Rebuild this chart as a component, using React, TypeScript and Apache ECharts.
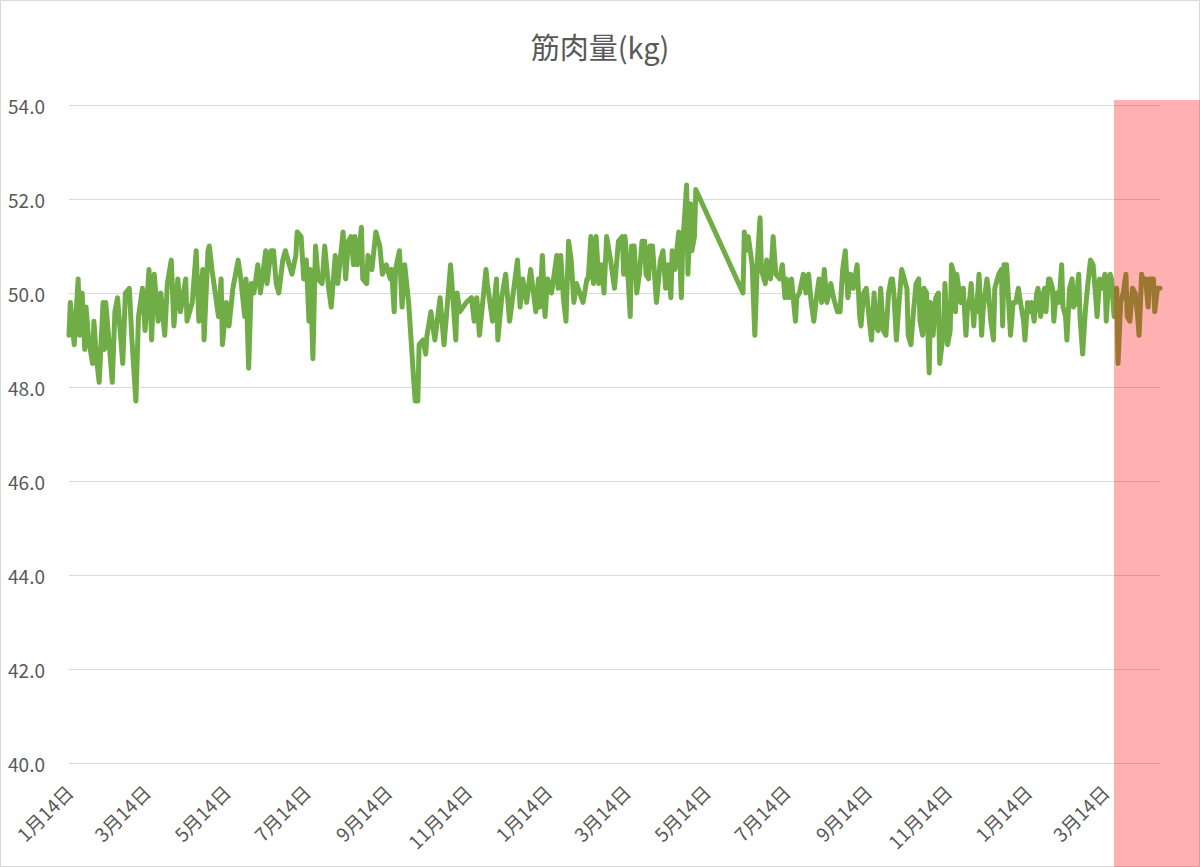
import React, { useEffect, useRef } from "react";
import * as echarts from "echarts";

// Measurement start date; points are [days since start, muscle mass kg]
const startDate = "2019-01-14";

const period1: [number, number][] = [
  [0, 49.1], [1, 49.8], [4, 48.9], [7, 50.3], [8, 49.1], [10, 50.0], [12, 48.8], [13, 49.7],
  [15, 49.0], [18, 48.5], [19, 49.4], [21, 48.6], [23, 48.1], [26, 49.8], [27, 48.8], [28, 49.8],
  [31, 48.8], [33, 48.1], [35, 49.6], [37, 49.9], [39, 49.2], [41, 48.5], [43, 50.0], [46, 50.1],
  [48, 49.0], [51, 47.7], [53, 49.5], [56, 50.1], [58, 49.2], [61, 50.5], [63, 49.0], [65, 50.4],
  [68, 49.4], [70, 50.0], [73, 49.1], [75, 50.2], [78, 50.7], [80, 49.3], [83, 50.3], [85, 49.6],
  [89, 50.3], [90, 49.4], [94, 49.8], [97, 50.9], [99, 49.4], [102, 50.5], [103, 49.0], [106, 50.9],
  [107, 51.0], [109, 50.5], [112, 49.9], [114, 49.5], [116, 50.3], [117, 48.9], [120, 49.8], [122, 49.3],
  [125, 50.1], [127, 50.4], [129, 50.7], [131, 50.3], [134, 49.5], [135, 50.3], [137, 48.4], [139, 50.2],
  [141, 50.0], [144, 50.6], [146, 50.0], [150, 50.9], [151, 50.2], [154, 50.9], [156, 50.9], [158, 50.2],
  [160, 50.0], [163, 50.7], [165, 50.9], [168, 50.6], [170, 50.4], [173, 50.8], [174, 51.3], [177, 51.2],
  [179, 50.3], [181, 50.7], [183, 49.4], [184, 50.5], [186, 48.6], [188, 51.0], [190, 50.3], [193, 50.2],
  [195, 51.0], [198, 50.1], [200, 49.7], [203, 50.8], [205, 50.2], [209, 51.3], [211, 50.3],
];

const period2: [number, number][] = [
  [213, 51.1], [215, 51.2], [217, 50.6], [218, 51.2], [220, 50.6], [223, 51.4], [224, 50.3], [227, 50.2],
  [228, 50.8], [231, 50.5], [234, 51.3], [237, 51.0], [239, 50.4], [242, 50.6], [245, 50.3], [246, 50.5],
  [248, 49.6], [249, 50.5], [252, 50.9], [254, 49.7], [256, 50.6], [259, 49.8], [263, 48.1], [264, 47.7],
  [266, 47.7], [267, 48.9], [270, 49.0], [272, 48.7], [273, 49.1], [276, 49.6], [279, 49.0], [283, 49.9],
  [286, 48.9], [291, 50.6], [295, 49.0], [296, 50.0], [298, 49.6], [303, 49.8], [307, 49.9], [309, 49.4],
  [311, 49.9], [313, 49.1], [318, 50.5], [319, 50.2], [323, 49.4], [326, 50.3], [327, 49.0], [330, 49.9],
  [333, 50.4], [336, 49.4], [342, 50.7], [344, 49.7], [346, 50.3], [349, 49.8], [352, 50.5], [356, 49.6],
  [358, 50.3], [359, 49.7], [361, 50.8], [363, 49.5], [365, 50.3], [368, 50.0], [372, 50.8], [373, 50.1],
  [375, 50.8], [377, 49.9], [379, 49.4], [381, 51.1], [383, 50.7], [385, 49.8], [387, 50.2], [392, 49.8],
  [395, 50.3], [396, 50.3], [398, 51.2], [400, 50.2], [402, 51.2], [404, 50.2], [406, 50.6], [408, 50.0],
  [410, 51.2], [413, 50.7], [416, 50.1], [419, 51.1],
];

const period3: [number, number][] = [
  [422, 51.2], [423, 50.4], [424, 51.2], [426, 50.5], [428, 49.5], [429, 51.0], [431, 51.0], [433, 50.0],
  [435, 50.4], [437, 51.1], [439, 51.1], [440, 50.4], [442, 50.3], [443, 51.0], [445, 51.0], [448, 49.8],
  [449, 50.1], [451, 50.7], [453, 50.9], [455, 50.1], [457, 50.6], [459, 49.9], [460, 50.9], [462, 50.5],
  [465, 51.3], [467, 49.9], [468, 51.0], [471, 52.3], [472, 50.4], [474, 51.9], [475, 50.9], [477, 51.2],
  [478, 52.2], [514, 50.0], [515, 51.3], [516, 50.9], [518, 51.2], [520, 50.8], [521, 50.6], [523, 49.1],
  [525, 50.7], [527, 51.6], [528, 50.5], [531, 50.2], [532, 50.7], [535, 50.3], [537, 51.2], [539, 50.4],
  [542, 50.3], [544, 50.6], [546, 49.9], [547, 50.3], [549, 49.9], [551, 50.3], [554, 49.4], [555, 49.9],
  [557, 50.0], [560, 50.4], [562, 50.0], [564, 50.4], [566, 49.8], [568, 49.4], [570, 49.9], [572, 50.3],
  [574, 49.8], [576, 50.5], [578, 49.8], [581, 50.2], [583, 49.9], [586, 49.6], [588, 49.6], [590, 50.5],
  [592, 50.9], [594, 49.9], [596, 50.4], [598, 50.1], [601, 50.6], [603, 49.5], [604, 49.3], [606, 50.0],
  [608, 50.1], [610, 49.5], [612, 49.0], [614, 50.0], [615, 49.3], [617, 49.2], [619, 50.1], [621, 49.2],
  [623, 49.1], [625, 50.0], [627, 50.3],
];

const period4: [number, number][] = [
  [628, 50.3], [629, 50.0], [631, 49.0], [633, 49.8], [635, 50.5], [637, 50.3], [639, 50.1], [640, 49.1],
  [642, 48.9], [644, 49.6], [646, 50.2], [648, 50.3], [649, 49.4], [651, 49.1], [652, 50.1], [654, 50.0],
  [656, 48.3], [657, 49.8], [658, 49.7], [659, 49.1], [661, 49.9], [663, 50.0], [664, 48.5], [667, 49.2],
  [668, 50.2], [670, 48.9], [672, 49.2], [673, 50.6], [675, 50.4], [676, 49.6], [677, 50.4], [680, 49.8],
  [682, 50.1], [684, 49.1], [685, 49.6], [687, 49.9], [688, 50.2], [690, 49.3], [691, 49.8], [692, 49.6],
  [694, 50.4], [696, 49.1], [697, 49.6], [700, 50.3], [701, 50.1], [703, 49.4], [705, 49.0], [706, 50.1],
  [709, 50.4], [711, 50.5], [712, 49.3], [713, 50.6], [715, 50.6], [717, 49.6], [718, 49.1], [720, 49.8],
  [722, 49.8], [724, 50.1], [725, 49.9], [728, 49.4], [729, 49.0], [731, 49.8], [733, 49.6], [734, 49.8],
  [736, 49.4], [738, 50.0], [739, 50.1], [741, 49.5], [743, 50.0], [744, 50.1], [745, 49.6], [747, 50.3],
  [748, 50.3], [750, 50.1], [751, 49.4], [753, 50.0], [755, 49.8], [757, 50.6], [758, 49.7], [760, 49.5],
  [761, 49.0], [763, 50.1], [765, 50.3], [766, 49.7], [768, 49.8], [770, 50.4], [771, 49.5], [773, 48.7],
  [775, 49.6], [777, 50.2], [779, 50.7], [781, 50.6], [783, 49.9], [784, 49.5], [786, 50.3], [788, 50.1],
  [790, 50.4], [791, 49.4], [793, 50.3], [794, 50.4], [795, 50.3], [797, 49.5], [799, 50.1], [800, 48.5],
  [802, 49.8], [804, 50.0], [806, 50.4], [807, 49.5], [809, 49.4], [811, 50.1], [813, 50.0], [815, 49.5],
  [816, 49.1], [818, 50.4], [819, 50.2], [821, 50.3], [823, 49.7], [824, 50.3], [827, 50.3], [828, 49.6],
  [830, 50.1], [832, 50.1],
];

const tickDates = [
  "2019-01-14", "2019-03-14", "2019-05-14", "2019-07-14", "2019-09-14", "2019-11-14",
  "2020-01-14", "2020-03-14", "2020-05-14", "2020-07-14", "2020-09-14", "2020-11-14",
  "2021-01-14", "2021-03-14",
];
const tickLabels = [
  "1月14日", "3月14日", "5月14日", "7月14日", "9月14日", "11月14日",
  "1月14日", "3月14日", "5月14日", "7月14日", "9月14日", "11月14日",
  "1月14日", "3月14日",
];

const yMin = 40;
const yMax = 54;
const yStep = 2;
const title = "筋肉量(kg)";

const toUTC = (s: string) => {
  const [y, m, d] = s.split("-").map(Number);
  return Date.UTC(y, m - 1, d);
};
const dayOf = (s: string) => Math.round((toUTC(s) - toUTC(startDate)) / 86400000);

export default function App() {
  const ref = useRef<HTMLDivElement>(null);
  useEffect(() => {
    if (!ref.current) return;
    const chart = echarts.init(ref.current, undefined, { renderer: "svg" });
    const data = [...period1, ...period2, ...period3, ...period4];
    const tickDays = tickDates.map(dayOf);
    const lastDay = data[data.length - 1][0];
    const font = "'Noto Sans CJK JP', 'Noto Sans', sans-serif";
    chart.setOption({
      animation: false,
      backgroundColor: "#ffffff",
      textStyle: { fontFamily: font },
      title: {
        text: title,
        left: "center",
        top: 26,
        textStyle: { fontSize: 29, fontWeight: "normal", color: "#595959", fontFamily: font },
      },
      grid: { left: 69, right: 40, top: 105, bottom: 104, containLabel: false },
      xAxis: {
        type: "value",
        min: 0,
        max: lastDay,
        axisLine: { show: false },
        axisTick: { show: false },
        splitLine: { show: false },
        axisLabel: {
          customValues: tickDays,
          rotate: 45,
          margin: 25,
          fontSize: 19,
          color: "#595959",
          fontFamily: font,
          formatter: (v: number) => {
            const i = tickDays.indexOf(Math.round(v));
            return i >= 0 ? tickLabels[i] : "";
          },
        },
      },
      yAxis: {
        type: "value",
        min: yMin,
        max: yMax,
        interval: yStep,
        axisLine: { show: false },
        axisTick: { show: false },
        splitLine: { lineStyle: { color: "#d9d9d9", width: 1 } },
        axisLabel: {
          margin: 24,
          fontSize: 19,
          color: "#595959",
          fontFamily: font,
          formatter: (v: number) => v.toFixed(1),
        },
      },
      series: [
        {
          type: "line",
          data,
          showSymbol: false,
          symbol: "none",
          lineStyle: { color: "#70ad47", width: 5, cap: "round", join: "round" },
          z: 3,
        },
      ],
      graphic: [
        {
          type: "rect",
          shape: { x: 0.5, y: 0.5, width: 1199, height: 866 },
          style: { fill: "none", stroke: "#d9d9d9", lineWidth: 1 },
          z: 1,
          silent: true,
        },
        {
          type: "rect",
          shape: { x: 1114, y: 100, width: 86, height: 767 },
          style: { fill: "rgba(255,0,0,0.31)" },
          z: 100,
          silent: true,
        },
      ],
    });
    return () => chart.dispose();
  }, []);
  return (
    <div
      ref={ref}
      style={{ position: "absolute", left: 0, top: 0, width: 1200, height: 867, background: "#fff" }}
    />
  );
}
